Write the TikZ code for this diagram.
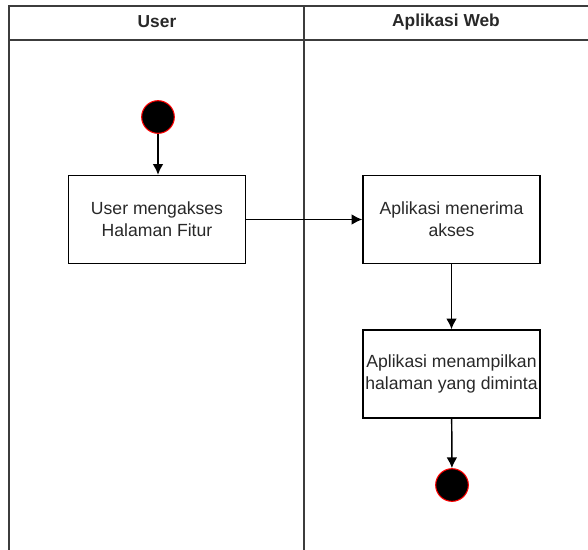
\documentclass[tikz,border=0pt]{standalone}
\usepackage{fontspec}
\setmainfont{Liberation Sans}
\usetikzlibrary{arrows.meta}

\tikzset{every picture/.style={line width=0.75pt}}
\tikzset{
	lane/.style={draw={rgb,255:red,60;green,60;blue,60},line width=1.1pt},
	action/.style={draw=black,line width=1.1pt,minimum width=132.75pt,minimum height=66pt,align=center,inner sep=0pt,font=\fontsize{13.2}{16.2}\selectfont,text={rgb,255:red,40;green,40;blue,40}},
	startstop/.style={circle,fill=black,draw=red,line width=0.8pt,minimum size=24.5pt,inner sep=0pt},
	flow/.style={line width=1.1pt,-{Latex[length=8pt,width=8pt]}},
	laneTitle/.style={font=\bfseries\fontsize{13}{16}\selectfont,text={rgb,255:red,40;green,40;blue,40}}
}

\begin{document}
\begin{tikzpicture}[x=0.75pt,y=0.75pt,yscale=-1,xscale=1]
		\useasboundingbox (0,0) rectangle (588,549);
		\clip (0,0) rectangle (588,549);
		
		%Swimlane frame
		\draw [lane] (9,560) -- (9,6) -- (600,6) ;
		\draw [lane] (9,40) -- (600,40) ;
		\draw [lane] (304,6) -- (304,560) ;
		
		% Lane titles
		\node [laneTitle] (userLane) at (157,22) {User};
		\node [laneTitle] (webLane) at (446,22) {Aplikasi Web};
		
		% Start / end
		\node [startstop] (start) at (158,117) {};
		\node [startstop] (finish) at (452,485) {};
		
		% Actions
		\node [action] (akses) at (157,219.5) {User mengakses\\Halaman Fitur};
		\node [action] (terima) at (451.5,219.5) {Aplikasi menerima\\akses};
		\node [action] (tampil) at (451.5,374) {Aplikasi menampilkan\\halaman yang diminta};
		
		% Flows
		\draw [flow] (start) -- (start |- akses.north) ;
		\draw [flow] (akses) -- (terima) ;
		\draw [flow] (terima) -- (tampil) ;
		\draw [flow] (tampil) -- (finish) ;
		
\end{tikzpicture}
\end{document}
